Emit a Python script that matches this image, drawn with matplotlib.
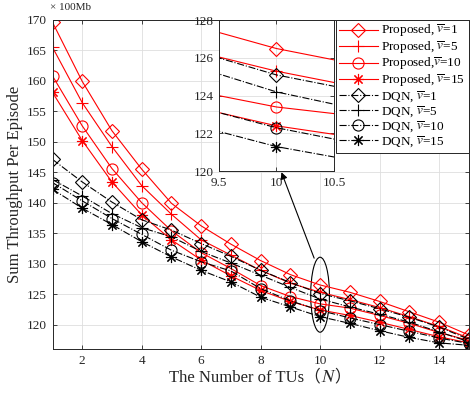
import numpy as np
import matplotlib
matplotlib.use("Agg")
import matplotlib.pyplot as plt
from matplotlib.patches import Ellipse
from matplotlib.ticker import FuncFormatter

# data (x 100Mb)
n_tus = np.arange(1, 16)
prop_v1 = [169.6, 159.9, 151.8, 145.5, 139.9, 136.2, 133.2, 130.5, 128.2, 126.5, 125.3, 123.8, 122.1, 120.4, 118.3]
prop_v5 = [165.5, 156.4, 149.2, 142.8, 138.1, 133.9, 131.4, 128.9, 126.8, 125.3, 124.1, 122.8, 121.3, 119.7, 117.8]
prop_v10 = [160.8, 152.6, 145.6, 140.0, 135.4, 131.8, 129.2, 126.4, 124.6, 123.4, 122.7, 121.5, 120.2, 118.7, 117.4]
prop_v15 = [158.1, 150.2, 143.4, 138.0, 133.9, 130.6, 128.0, 125.6, 123.8, 122.4, 121.5, 120.4, 119.2, 118.0, 117.0]
dqn_v1 = [147.1, 143.4, 140.1, 137.2, 135.5, 133.3, 131.2, 128.9, 126.9, 125.1, 123.9, 122.6, 121.2, 119.6, 117.6]
dqn_v5 = [143.8, 141.1, 138.2, 135.9, 134.4, 132.0, 130.1, 128.1, 126.1, 124.2, 122.9, 121.7, 120.4, 118.8, 117.2]
dqn_v10 = [143.3, 140.3, 137.4, 134.8, 132.2, 130.3, 128.8, 125.9, 123.9, 122.3, 121.1, 120.0, 118.9, 117.8, 116.9]
dqn_v15 = [142.2, 139.1, 136.4, 133.6, 131.1, 128.9, 127.0, 124.5, 122.9, 121.3, 120.2, 119.0, 117.9, 117.0, 116.6]

labels = [r"Proposed, $\overline{v}$=1", r"Proposed, $\overline{v}$=5",
          r"Proposed,$\overline{v}$=10", r"Proposed, $\overline{v}$=15",
          r"DQN, $\overline{v}$=1", r"DQN, $\overline{v}$=5",
          r"DQN, $\overline{v}$=10", r"DQN, $\overline{v}$=15"]

plt.rcParams['font.family'] = ['Liberation Serif', 'Noto Sans CJK SC', 'STIXGeneral', 'DejaVu Sans']
plt.rcParams['mathtext.fontset'] = 'stix'

series = [prop_v1, prop_v5, prop_v10, prop_v15, dqn_v1, dqn_v5, dqn_v10, dqn_v15]
colors = ['red'] * 4 + ['black'] * 4
styles = ['-'] * 4 + ['-.'] * 4
markers = ['D', '+', 'o', (8, 2, 0)] * 2
msizes = [7, 9, 8, 8] * 2

axcol = '#262626'
fig = plt.figure(figsize=(4.73, 3.97), dpi=100)
ax = fig.add_axes([0.111, 0.121, 0.880, 0.829])


def draw(a):
    for y, c, ls, m, ms, lab in zip(series, colors, styles, markers, msizes, labels):
        a.plot(n_tus, y, color=c, linestyle=ls, marker=m, markersize=ms,
               markerfacecolor='none', markeredgecolor=c, markeredgewidth=0.8,
               linewidth=0.8, label=lab)


def style(a, fs):
    a.grid(True, color='#dedede', linewidth=0.6)
    a.set_axisbelow(True)
    a.tick_params(direction='in', top=True, right=True, length=3, width=0.6,
                  colors=axcol, labelsize=fs, pad=4)
    for s in a.spines.values():
        s.set_color(axcol)
        s.set_linewidth(0.7)


draw(ax)
style(ax, 9.5)
ax.set_xlim(1, 15)
ax.set_ylim(116, 170)
ax.set_xticks(np.arange(2, 15, 2))
ax.set_yticks(np.arange(120, 171, 5))
ax.set_xlabel("The Number of TUs\uff08\U0001D441\uff09", fontsize=12, color=axcol, labelpad=2)
ax.set_ylabel("Sum Throughput Per Episode", fontsize=12, color=axcol, labelpad=3)
fig.text(50 / 473, 1 - 7.5 / 397, "\u00d7 100Mb", fontsize=8, color=axcol, va='center')

ax.legend(loc='upper right', borderaxespad=0, fancybox=False, edgecolor=axcol,
          framealpha=1, fontsize=9.5, handlelength=2.9, labelspacing=0.02,
          borderpad=0.25, handletextpad=0.3).get_frame().set_linewidth(0.7)

ax.add_patch(Ellipse((10, 124.9), 0.63, 12.3, fill=False, edgecolor='black', linewidth=0.8))
ax.annotate('', xy=(8.70, 145.0), xytext=(9.80, 130.9),
            arrowprops=dict(arrowstyle='-|>', color='black', lw=0.8,
                            mutation_scale=10, shrinkA=0, shrinkB=0))

# zoomed inset around N = 10
ax_in = fig.add_axes([0.463, 0.569, 0.243, 0.380])
draw(ax_in)
style(ax_in, 9.5)
ax_in.set_xlim(9.5, 10.5)
ax_in.set_ylim(120, 128)
ax_in.set_xticks([9.5, 10, 10.5])
ax_in.set_yticks(np.arange(120, 129, 2))
ax_in.xaxis.set_major_formatter(FuncFormatter(lambda v, p: f"{v:g}"))

fig.savefig('out.png', dpi=100)
